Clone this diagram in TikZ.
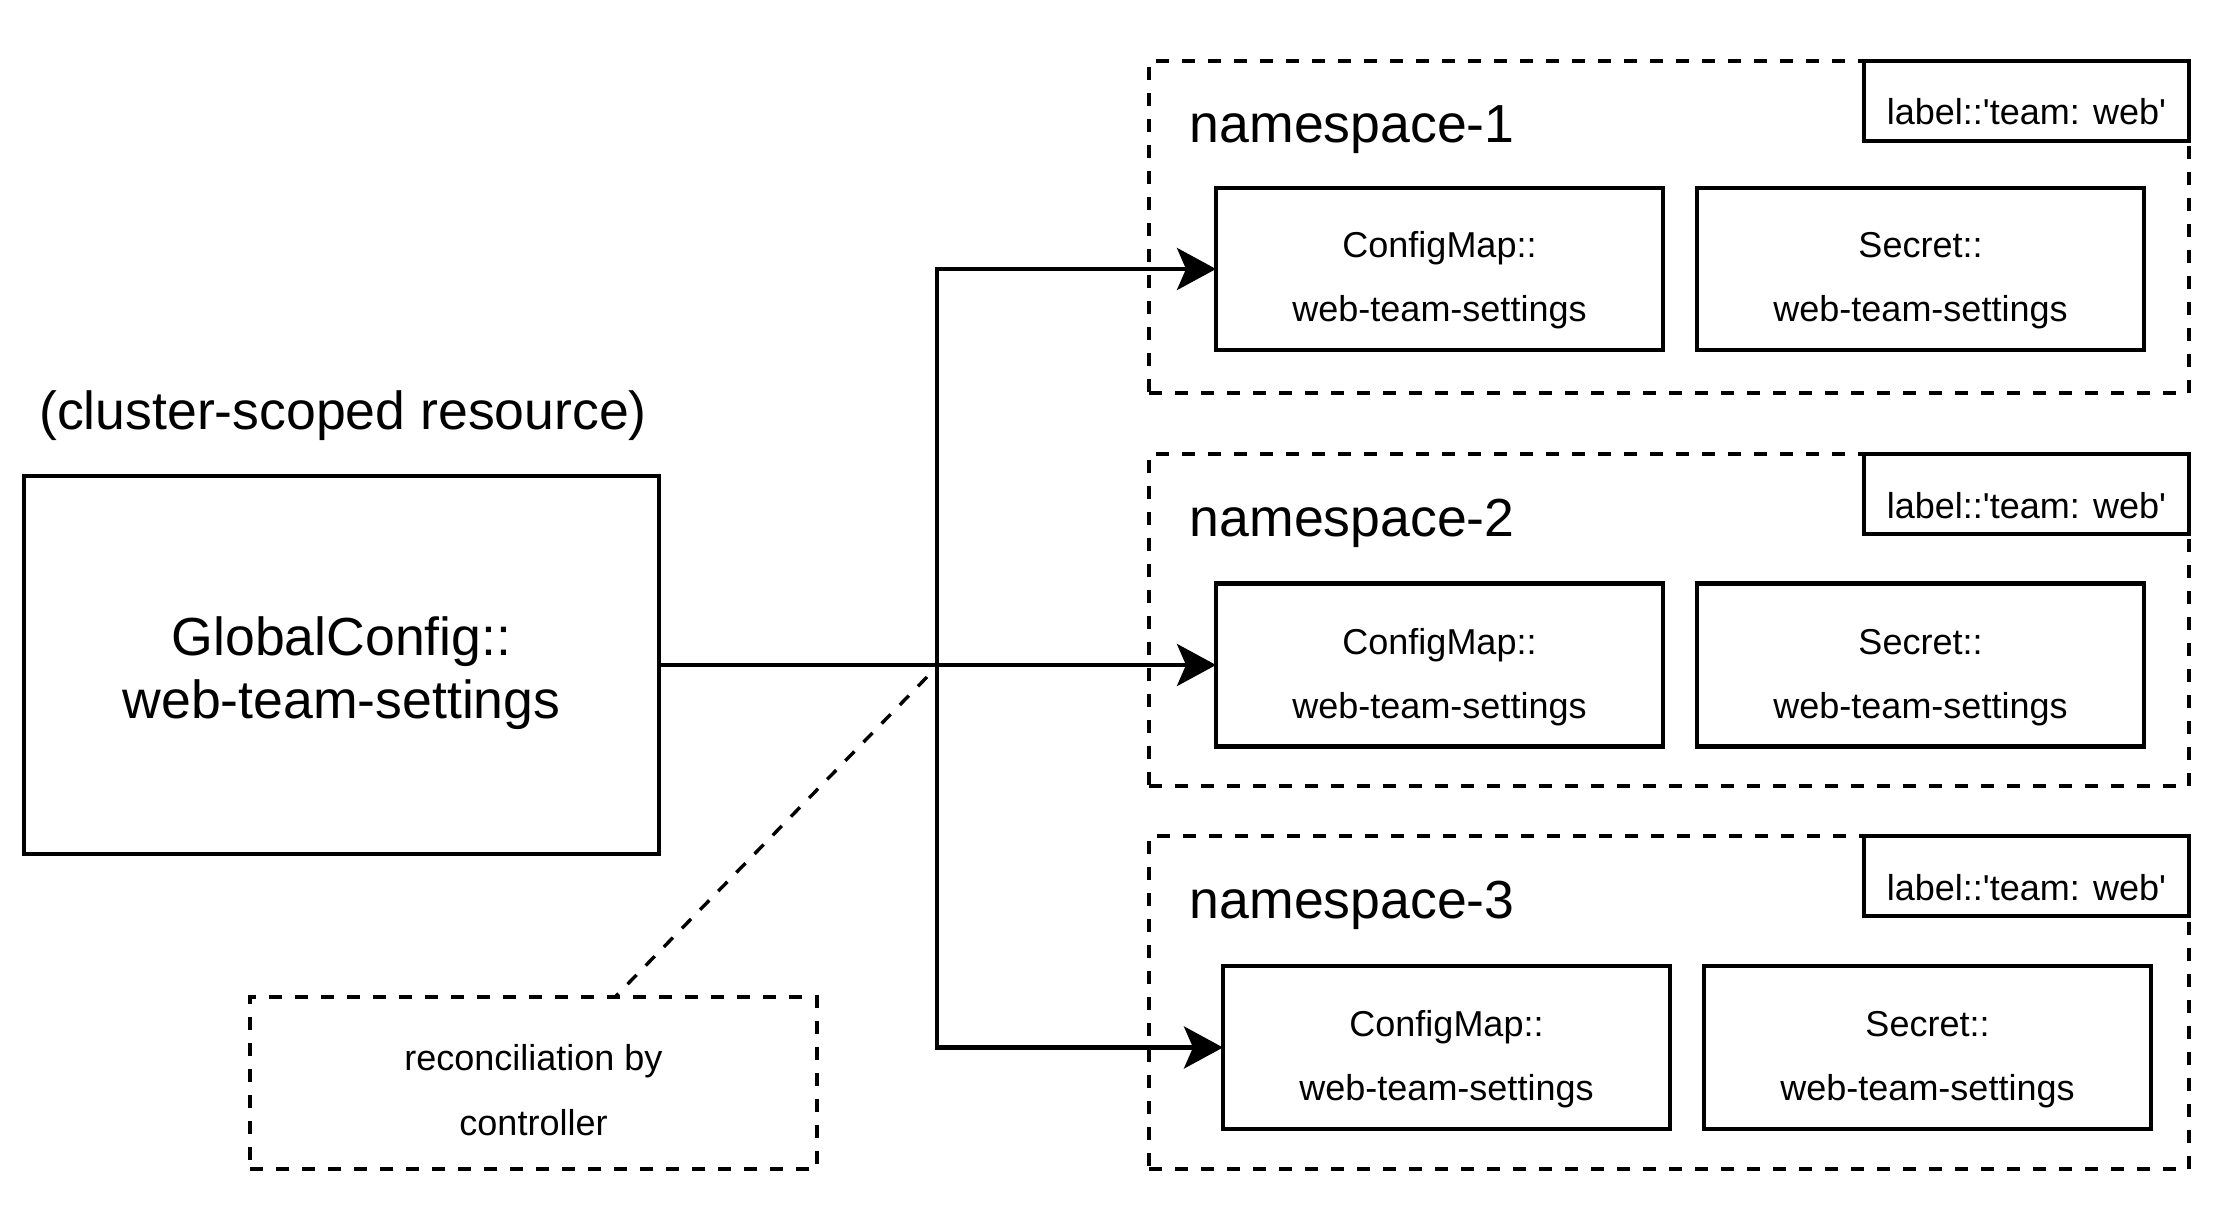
\documentclass[tikz,border=0pt]{standalone}
\usepackage{fontspec}
\setmainfont{Liberation Sans}
\usetikzlibrary{arrows.meta}
\begin{document}
\begin{tikzpicture}[x=0.25pt,y=-0.25pt,
  box/.style 2 args={draw, line width=1.1pt, minimum width=#1*0.25pt, minimum height=#2*0.25pt, inner sep=0pt, outer sep=0pt},
  dbox/.style 2 args={box={#1}{#2}, line width=0.85pt, dash pattern=on 3.25pt off 3.25pt},
  big/.style={font=\fontsize{13.4pt}{16pt}\selectfont, inner sep=0pt, anchor=base},
  small/.style={font=\fontsize{9pt}{11pt}\selectfont, inner sep=0pt, anchor=base},
  conn/.style={line width=1.1pt, -{Stealth[length=9.75pt,width=10.5pt,inset=2.25pt]}},
  dline/.style={line width=0.85pt, dash pattern=on 3.25pt off 3.25pt},
]
\useasboundingbox (0,0) rectangle (2240,1230);

% cluster-scoped resource
\node[big] (cl) at (343,429) {(cluster-scoped resource)};
\node[box={635}{378}] (gc) at (341.5,665) {};
\node[big] (gc1) at (341.5,655) {GlobalConfig::};
\node[big] (gc2) at (341.5,718) {web-team-settings};

% namespaces
\node[dbox={1040}{332}] (ns1) at (1669,227) {};
\node[dbox={1040}{332}] (ns2) at (1669,620) {};
\node[dbox={1040}{333}] (ns3) at (1669,1002.5) {};

\node[big, anchor=base west] (nt1) at (1189,143) {namespace-1};
\node[big, anchor=base west] (nt2) at (1189,536) {namespace-2};
\node[big, anchor=base west] (nt3) at (1189,918) {namespace-3};

\node[box={325}{80}, fill=white] (lb1) at (2026.5,101) {};
\node[box={325}{80}, fill=white] (lb2) at (2026.5,494) {};
\node[box={325}{80}, fill=white] (lb3) at (2026.5,876) {};
\node[small] (lt1) at (2026.5,125) {label::\textquotesingle team: web\textquotesingle};
\node[small] (lt2) at (2026.5,518) {label::\textquotesingle team: web\textquotesingle};
\node[small] (lt3) at (2026.5,900) {label::\textquotesingle team: web\textquotesingle};

% ConfigMaps and Secrets
\node[box={447}{162}] (cm1) at (1439.5,269) {};
\node[box={447}{163}] (cm2) at (1439.5,665) {};
\node[box={447}{163}] (cm3) at (1446.5,1047.5) {};
\node[box={447}{162}] (sc1) at (1920.5,269) {};
\node[box={447}{163}] (sc2) at (1920.5,665) {};
\node[box={447}{163}] (sc3) at (1927.5,1047.5) {};

\node[small] (cm1a) at (1439.5,258) {ConfigMap::};
\node[small] (cm1b) at (1439.5,322) {web-team-settings};
\node[small] (cm2a) at (1439.5,654) {ConfigMap::};
\node[small] (cm2b) at (1439.5,718) {web-team-settings};
\node[small] (cm3a) at (1446.5,1036.5) {ConfigMap::};
\node[small] (cm3b) at (1446.5,1100.5) {web-team-settings};
\node[small] (sc1a) at (1920.5,258) {Secret::};
\node[small] (sc1b) at (1920.5,322) {web-team-settings};
\node[small] (sc2a) at (1920.5,654) {Secret::};
\node[small] (sc2b) at (1920.5,718) {web-team-settings};
\node[small] (sc3a) at (1927.5,1036.5) {Secret::};
\node[small] (sc3b) at (1927.5,1100.5) {web-team-settings};

% reconciliation note
\node[dbox={567}{172}] (rec) at (533.5,1083) {};
\node[small] (rec1) at (533.5,1070) {reconciliation by};
\node[small] (rec2) at (533.5,1135) {controller};

% connectors
\coordinate (j) at (937,665);
\draw[conn] (gc.east) -- (cm2.west);
\draw[conn] (j) |- (cm1.west);
\draw[conn] (j) |- (cm3.west);

\coordinate (ds) at (927,677);
\coordinate (de) at (615,997);
\draw[dline] (ds) -- (de);
\end{tikzpicture}
\end{document}
